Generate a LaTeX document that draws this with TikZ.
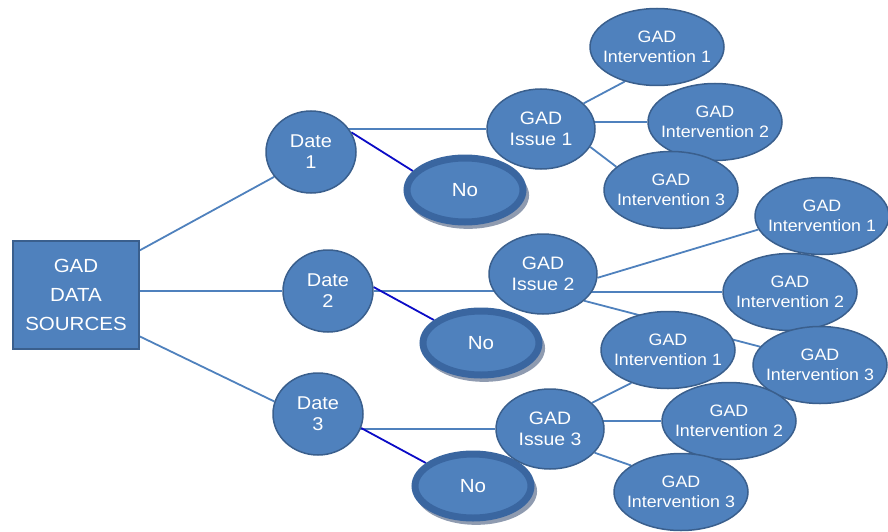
\documentclass[tikz,border=0pt]{standalone}
\usepackage{fontspec}
\setmainfont{Liberation Sans}[FakeStretch=1.08]
\usetikzlibrary{shapes.geometric,shadows,backgrounds}
\definecolor{gadblue}{HTML}{4F81BD}
\definecolor{gadedge}{HTML}{3A5F8D}
\definecolor{noring}{HTML}{3A66A0}
\definecolor{noshade}{HTML}{8F9BB0}
\definecolor{nolinkblue}{HTML}{0B0BC6}
\tikzset{
    every node/.style={align=center,text=white,},
    source/.style={draw=gadedge,fill=gadblue,line width=1.5pt,minimum width=126pt,minimum height=108pt,font=\fontsize{19}{29}\selectfont,},
    bubble/.style={ellipse,draw=gadedge,fill=gadblue,line width=1.5pt,inner sep=0pt,},
    datebubble/.style={bubble,minimum width=90pt,minimum height=82pt,font=\fontsize{18.5}{21}\selectfont,},
    issuebubble/.style={bubble,minimum width=108pt,minimum height=80pt,font=\fontsize{18}{21}\selectfont,},
    actionbubble/.style={bubble,inner xsep=-8pt,minimum width=134pt,minimum height=77pt,font=\fontsize{16.5}{20}\selectfont,},
    nobubble/.style={ellipse,draw=noring,fill=gadblue,line width=7pt,minimum width=116pt,minimum height=64pt,inner sep=0pt,font=\fontsize{19}{21}\selectfont,
        drop shadow={shadow xshift=3pt,shadow yshift=-5pt,shadow scale=1.05,fill=noshade,opacity=1},},
    link/.style={draw=gadblue,line width=1.8pt,},
    nolink/.style={draw=nolinkblue,line width=1.8pt,},
}
\begin{document}
\begin{tikzpicture}[x=1pt,y=-1pt]
                \useasboundingbox (0,0) rectangle (888,532);

                \node[source] (sources) at (76, 295) {GAD\\DATA\\SOURCES};

                \node[datebubble] (date1) at (311, 152) {Date\\1};
                \node[datebubble] (date2) at (328, 291) {Date\\2};
                \node[datebubble] (date3) at (318, 414) {Date\\3};

                \node[nobubble] (no1) at (465, 190) {No};
                \node[nobubble] (no2) at (481, 343) {No};
                \node[nobubble] (no3) at (473, 486) {No};

                \node[issuebubble] (issue1) at (541, 129) {GAD\\Issue 1};
                \node[issuebubble] (issue2) at (543, 274) {GAD\\Issue 2};
                \node[issuebubble] (issue3) at (550, 429) {GAD\\Issue 3};

                \node[actionbubble] (act11) at (657, 47) {GAD\\Intervention 1};
                \node[actionbubble] (act12) at (715, 122) {GAD\\Intervention 2};
                \node[actionbubble] (act13) at (671, 190) {GAD\\Intervention 3};

                \node[actionbubble] (act21) at (822, 216) {GAD\\Intervention 1};
                \node[actionbubble] (act22) at (790, 292) {GAD\\Intervention 2};
                \node[actionbubble] (act23) at (820, 365) {GAD\\Intervention 3};

                \node[actionbubble] (act31) at (668, 350) {GAD\\Intervention 1};
                \node[actionbubble] (act32) at (729, 421) {GAD\\Intervention 2};
                \node[actionbubble] (act33) at (681, 492) {GAD\\Intervention 3};

                % connectors go under the bubbles
                \begin{pgfonlayer}{background}
                \path (sources.35) edge[link] (date1.214);
                \path (date2 -| sources) edge[link] (date2);
                \path (sources.-33) edge[link] (date3.164);

                \path (date1 |- issue1) edge[link] (issue1);
                \path (date2) edge[link] (date2 -| issue2);
                \path (issue3 -| date3) edge[link] (issue3);

                \path (date1.26) edge[nolink] (no1.160);
                \path (date2.5) edge[nolink] (no2.154);
                \path (date3.-18) edge[nolink] (no3.154);

                \path (issue1.31) edge[link] (act11.-133);
                \path (issue1 |- act12) edge[link] (act12);
                \path (issue1.-20) edge[link] (act13.157);

                \path (issue2.-4) edge[link] (act21.192);
                \path (issue2 |- act22) edge[link] (act22);
                \path (issue2.-33) edge[link] (act23.163);

                \path (issue3.32) edge[link] (act31.222);
                \path (issue3 |- act32) edge[link] (act32);
                \path (issue3.-28) edge[link] (act33.152);
                \end{pgfonlayer}
            \end{tikzpicture}
\end{document}
